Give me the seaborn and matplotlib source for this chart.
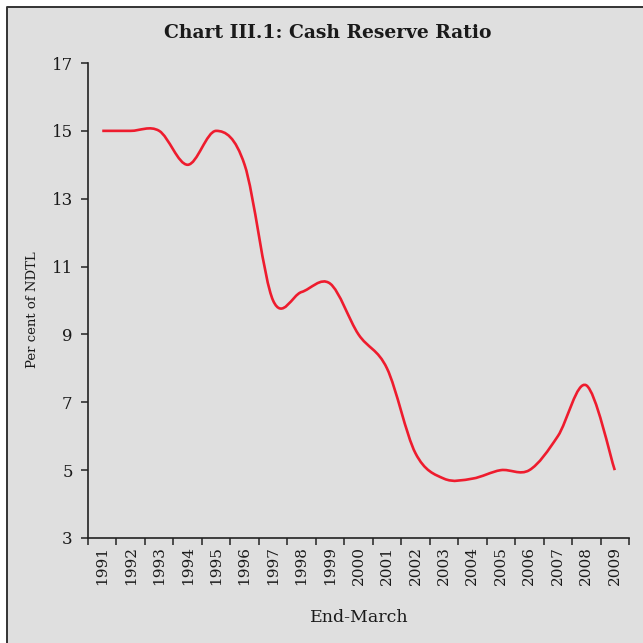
import matplotlib
matplotlib.use("Agg")
import matplotlib.pyplot as plt
from matplotlib.path import Path
from matplotlib.patches import PathPatch, Rectangle
from matplotlib.lines import Line2D
from matplotlib.ticker import FixedLocator
import numpy as np
import pandas as pd
import seaborn as sns

years = ["1991", "1992", "1993", "1994", "1995", "1996", "1997", "1998", "1999", "2000",
         "2001", "2002", "2003", "2004", "2005", "2006", "2007", "2008", "2009"]
crr = [15, 15, 15, 14, 15, 14, 10, 10.25, 10.5, 9, 8, 5.5, 4.75, 4.75, 5, 5, 6, 7.5, 5]
y_ticks = [3, 5, 7, 9, 11, 13, 15, 17]

title = "Chart III.1: Cash Reserve Ratio"
xlabel = "End-March"
ylabel = "Per cent of NDTL"

sns.set_theme(style="white")
plt.rcParams["font.family"] = ["DejaVu Serif"]

BG = "#dfdfdf"
RED = "#ee1c2e"
TXT = "#1a1a1a"

fig = plt.figure(figsize=(6.43, 6.43), dpi=100)
fig.patch.set_facecolor("white")
W, H = 643, 643
fig.patches.append(Rectangle((7 / W, 0), 1.0, 1 - 7 / H, transform=fig.transFigure,
                             facecolor=BG, edgecolor="none", zorder=-10))
fig.lines.append(Line2D([7 / W, 7 / W, 1.0], [0, 1 - 7 / H, 1 - 7 / H], transform=fig.transFigure,
                        color="#333333", linewidth=1.4, zorder=-9))

ax = fig.add_axes([88 / W, 1 - 538 / H, (629 - 88) / W, (538 - 63) / H])
ax.set_facecolor(BG)

df = pd.DataFrame({"Year": years, "CRR": crr})
sns.lineplot(data=df, x="Year", y="CRR", color=RED, linewidth=1.9, ax=ax, sort=False)

# smooth the drawn line (Catmull-Rom -> cubic Bezier), like a smoothed line chart
line = ax.lines[0]
xy = line.get_xydata()
n = len(xy)
verts = [tuple(xy[0])]
codes = [Path.MOVETO]
for i in range(n - 1):
    p0 = xy[i - 1] if i > 0 else xy[i]
    p1 = xy[i]
    p2 = xy[i + 1]
    p3 = xy[i + 2] if i + 2 < n else xy[i + 1]
    c1 = p1 + (p2 - p0) / 6.0
    c2 = p2 - (p3 - p1) / 6.0
    verts += [tuple(c1), tuple(c2), tuple(p2)]
    codes += [Path.CURVE4, Path.CURVE4, Path.CURVE4]
ax.add_patch(PathPatch(Path(verts, codes), facecolor="none", edgecolor=RED,
                       linewidth=1.9, capstyle="butt", joinstyle="round", zorder=3))
line.set_visible(False)

ax.set_xlim(-0.5, len(years) - 0.5)
ax.set_ylim(3, 17)
ax.set_yticks(y_ticks)
ax.set_yticklabels([str(v) for v in y_ticks], fontsize=12, color=TXT)
ax.set_xticks(range(len(years)))
ax.set_xticklabels(years, rotation=90, fontsize=11, color=TXT)
ax.xaxis.set_minor_locator(FixedLocator(np.arange(-0.5, len(years), 1.0)))
ax.tick_params(axis="x", which="major", length=0, pad=6)
ax.tick_params(axis="x", which="minor", length=5, width=1.1, color="#222222", direction="out", bottom=True)
ax.tick_params(axis="y", which="major", length=5, width=1.1, color="#222222", direction="out", left=True, pad=6)

for s in ["top", "right"]:
    ax.spines[s].set_visible(False)
for s in ["left", "bottom"]:
    ax.spines[s].set_color("#222222")
    ax.spines[s].set_linewidth(1.2)

ax.set_xlabel("")
ax.set_ylabel("")
fig.text(328 / W, 1 - 33 / H, title, ha="center", va="center", fontsize=13.5,
         fontweight="bold", color=TXT)
fig.text(33 / W, 1 - 310 / H, ylabel, ha="center", va="center", rotation=90,
         fontsize=9.5, color=TXT)
fig.text(359 / W, 1 - 617 / H, xlabel, ha="center", va="center", fontsize=12.5, color=TXT)

fig.savefig("out.png", dpi=100, facecolor=fig.get_facecolor())
